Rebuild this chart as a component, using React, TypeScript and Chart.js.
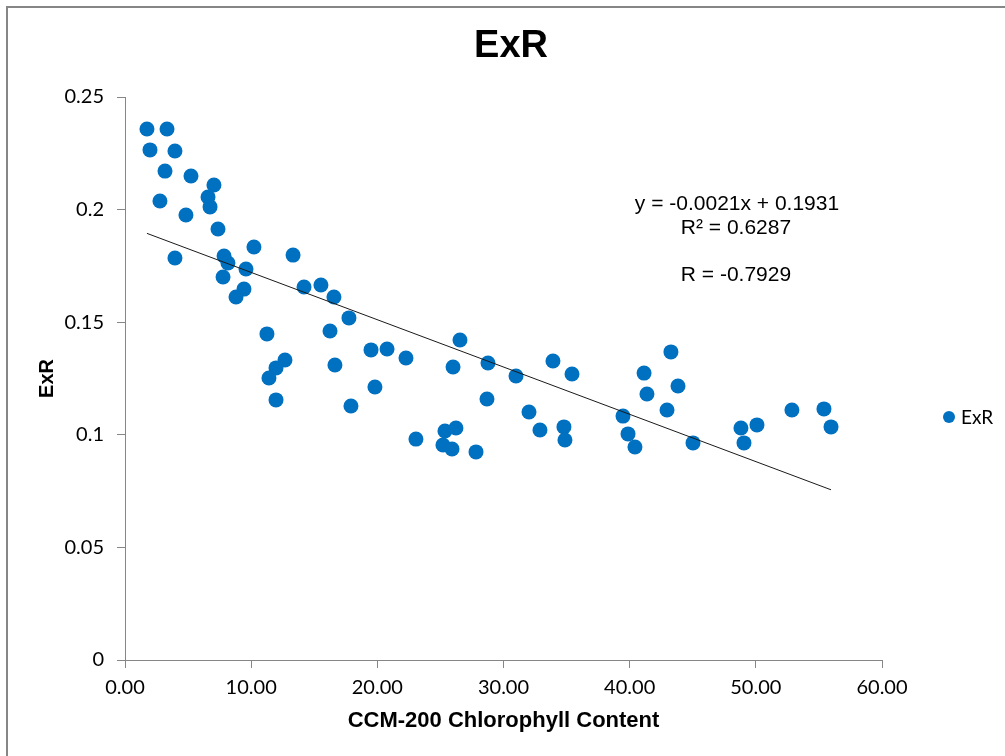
import { useEffect, useRef } from "react";
import { Chart, registerables } from "chart.js";

Chart.register(...registerables);

// CCM-200 chlorophyll readings (x) and the matching ExR index values (y)
const chlorophyll = [
  1.74, 3.33, 1.98, 3.96, 3.17, 5.23, 7.05, 2.77, 6.58, 6.74,
  4.83, 7.37, 10.22, 3.96, 7.85, 8.16, 9.59, 7.77, 9.43, 8.8,
  13.32, 14.19, 15.53, 16.56, 17.75, 16.25, 11.25, 12.68, 11.97, 11.41,
  11.97, 16.64, 19.5, 20.77, 19.81, 22.27, 17.91, 23.06, 26.55, 26.0,
  28.77, 30.99, 28.69, 32.02, 25.36, 26.23, 25.2, 25.92, 27.82, 33.92,
  35.43, 32.89, 34.79, 34.87, 43.27, 41.14, 41.37, 43.83, 42.96, 39.47,
  39.87, 40.42, 45.02, 48.82, 50.09, 49.06, 52.86, 55.4, 55.96,
];
const exr = [
  0.2358, 0.2358, 0.2265, 0.226, 0.2171, 0.2149, 0.2109, 0.2038, 0.2056, 0.2012,
  0.1976, 0.1914, 0.1834, 0.1785, 0.1794, 0.1763, 0.1736, 0.1701, 0.1647, 0.1612,
  0.1798, 0.1656, 0.1665, 0.1612, 0.1519, 0.1461, 0.1448, 0.1332, 0.1297, 0.1252,
  0.1155, 0.131, 0.1377, 0.1381, 0.1212, 0.1341, 0.1128, 0.0981, 0.1421, 0.1301,
  0.1319, 0.1261, 0.1159, 0.1101, 0.1017, 0.103, 0.0955, 0.0937, 0.0924, 0.1328,
  0.127, 0.1021, 0.1035, 0.0977, 0.1368, 0.1274, 0.1181, 0.1217, 0.111, 0.1083,
  0.1004, 0.0946, 0.0964, 0.103, 0.1044, 0.0964, 0.111, 0.1115, 0.1035,
];

const xTickLabels = ["0.00", "10.00", "20.00", "30.00", "40.00", "50.00", "60.00"];
const yTickLabels = ["0", "0.05", "0.1", "0.15", "0.2", "0.25"];

// Linear trend fitted to the series
const trendSlope = -0.0021;
const trendIntercept = 0.1931;
const rSquaredText = "0.6287";
const rText = "-0.7929";

const seriesName = "ExR";
const chartTitle = "ExR";
const xAxisTitle = "CCM-200 Chlorophyll Content";
const yAxisTitle = "ExR";

const pointColor = "#0070C0";
const axisColor = "#868686";

const xMin = Math.min(...chlorophyll);
const xMax = Math.max(...chlorophyll);
const trendPoints = [
  { x: xMin, y: trendSlope * xMin + trendIntercept },
  { x: xMax, y: trendSlope * xMax + trendIntercept },
];

const slopeStr = trendSlope.toFixed(4);
const interceptStr = trendIntercept.toFixed(4);
const equationText = `y = ${slopeStr}x + ${interceptStr}`;

// Title, trend equation and the series key drawn over the plot
const overlayPlugin = {
  id: "overlayText",
  afterDraw(chart: any) {
    const ctx = chart.ctx as CanvasRenderingContext2D;
    ctx.save();
    ctx.fillStyle = "#000";
    ctx.textAlign = "center";
    ctx.textBaseline = "middle";
    ctx.font = "bold 38px 'Liberation Sans', Arial, sans-serif";
    ctx.fillText(chartTitle, 511, 47);

    ctx.font = "21px 'Liberation Sans', Arial, sans-serif";
    ctx.fillText(equationText, 737, 204);
    ctx.fillText(`R² = ${rSquaredText}`, 736, 228);
    ctx.fillText(`R = ${rText}`, 736, 275);

    ctx.beginPath();
    ctx.arc(949, 417, 6, 0, Math.PI * 2);
    ctx.fillStyle = pointColor;
    ctx.fill();
    ctx.fillStyle = "#000";
    ctx.textAlign = "left";
    ctx.font = "19px Lato, sans-serif";
    ctx.fillText(seriesName, 961, 418);
    ctx.restore();
  },
};

export default function App() {
  const canvasRef = useRef<HTMLCanvasElement | null>(null);

  useEffect(() => {
    const canvas = canvasRef.current;
    if (!canvas) return;
    const chart = new Chart(canvas, {
      type: "scatter",
      data: {
        datasets: [
          {
            label: "Linear (ExR)",
            data: trendPoints,
            showLine: true,
            borderColor: "#1a1a1a",
            borderWidth: 1,
            pointRadius: 0,
            fill: false,
            order: 0,
          } as any,
          {
            label: seriesName,
            data: chlorophyll.map((x, i) => ({ x, y: exr[i] })),
            backgroundColor: pointColor,
            borderWidth: 0,
            pointRadius: 7.5,
            pointHoverRadius: 7.5,
            order: 1,
          },
        ],
      },
      options: {
        animation: false,
        responsive: false,
        maintainAspectRatio: false,
        devicePixelRatio: 1,
        layout: { padding: { left: 0, top: 97, right: 123, bottom: 0 } },
        plugins: {
          legend: { display: false },
          title: { display: false },
          tooltip: { enabled: false },
        },
        scales: {
          x: {
            type: "linear",
            min: 0,
            max: 60,
            afterFit: (scale: any) => {
              scale.height = 96;
            },
            ticks: {
              stepSize: 10,
              padding: 8,
              color: "#000",
              font: { family: "Lato, sans-serif", size: 20 },
              maxRotation: 0,
              callback: (_v: any, i: number) => xTickLabels[i],
            },
            grid: {
              display: true,
              drawOnChartArea: false,
              drawTicks: true,
              tickLength: 8,
              color: axisColor,
            },
            border: { display: true, color: axisColor, width: 1 },
            title: {
              display: true,
              text: xAxisTitle,
              color: "#000",
              font: { family: "'Liberation Sans', Arial, sans-serif", size: 22, weight: "bold" },
              padding: { top: 0, bottom: 22 },
            },
          },
          y: {
            type: "linear",
            min: 0,
            max: 0.25,
            afterFit: (scale: any) => {
              scale.width = 125;
            },
            ticks: {
              stepSize: 0.05,
              padding: 13,
              color: "#000",
              font: { family: "Lato, sans-serif", size: 20 },
              callback: (v: any) => {
                const hit = yTickLabels.find((t) => Math.abs(Number(t) - Number(v)) < 1e-6);
                return hit ?? "";
              },
            },
            grid: {
              display: true,
              drawOnChartArea: false,
              drawTicks: true,
              tickLength: 8,
              color: axisColor,
            },
            border: { display: true, color: axisColor, width: 1 },
            title: {
              display: true,
              text: yAxisTitle,
              color: "#000",
              font: { family: "'Liberation Sans', Arial, sans-serif", size: 20, weight: "bold" },
              padding: { top: 35, bottom: 0 },
            },
          },
        },
      },
      plugins: [overlayPlugin],
    });
    return () => chart.destroy();
  }, []);

  return (
    <div
      style={{
        position: "fixed",
        left: 0,
        top: 0,
        width: 1005,
        height: 756,
        overflow: "hidden",
        background: "#fff",
      }}
    >
      <div
        style={{
          position: "absolute",
          left: 6,
          top: 6,
          width: 1100,
          height: 900,
          border: `2px solid ${axisColor}`,
          boxSizing: "border-box",
        }}
      />
      <canvas
        ref={canvasRef}
        width={1005}
        height={756}
        style={{ position: "absolute", left: 0, top: 0, width: 1005, height: 756 }}
      />
    </div>
  );
}
